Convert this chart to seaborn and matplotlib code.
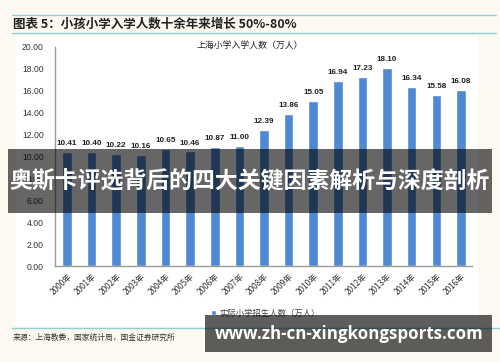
import matplotlib
matplotlib.use('Agg')
import matplotlib.pyplot as plt
from matplotlib.patches import Rectangle
from matplotlib.lines import Line2D
import seaborn as sns
import pandas as pd

# 数据
years = ['2000年', '2001年', '2002年', '2003年', '2004年', '2005年', '2006年', '2007年', '2008年',
         '2009年', '2010年', '2011年', '2012年', '2013年', '2014年', '2015年', '2016年']
students = [10.41, 10.40, 10.22, 10.16, 10.65, 10.46, 10.87, 11.00, 12.39,
            13.86, 15.05, 16.94, 17.23, 18.10, 16.34, 15.58, 16.08]
y_ticks = [0, 2, 4, 6, 8, 10, 12, 14, 16, 18, 20]

sns.set_style('white')
plt.rcParams['font.family'] = ['Noto Sans CJK SC', 'DejaVu Sans']
plt.rcParams['axes.unicode_minus'] = False

W, H = 500, 362
fig = plt.figure(figsize=(W / 100, H / 100), dpi=100, facecolor='#fdf9f1')

def fx(px):
    return px / W

def fy(py):
    return 1 - py / H

# 白色图表面板
fig.patches.append(Rectangle((fx(16), fy(326)), fx(462), fy(36) - fy(326),
                             transform=fig.transFigure, facecolor='white', edgecolor='none', zorder=-1))

# 标题与分隔线
teal = '#8fd0d6'
fig.add_artist(Line2D([fx(12), fx(496)], [fy(15), fy(15)], color=teal, lw=1.0))
fig.add_artist(Line2D([fx(12), fx(496)], [fy(33), fy(33)], color=teal, lw=1.0))
fig.text(fx(13), fy(24), '图表 5：小孩小学入学人数十余年来增长 50%-80%', fontsize=9,
         fontweight='bold', style='italic', color='#222222', va='center', ha='left')

ax = fig.add_axes([fx(55), fy(266), fx(472) - fx(55), fy(47) - fy(266)])
df = pd.DataFrame({'year': years, 'value': students})
sns.barplot(data=df, x='year', y='value', color='#4f88d3', width=0.39, saturation=1,
            ax=ax, label='实际小学招生人数（万人）')
handles, labels = ax.get_legend_handles_labels()
if ax.get_legend() is not None:
    ax.get_legend().remove()

ax.set_ylim(0, 20)
ax.set_xlim(-0.49, 16.45)
ax.set_yticks(y_ticks)
ax.set_yticklabels([f'{v:.2f}' for v in y_ticks], fontsize=6.2, color='#333333',
                   family=['Liberation Sans', 'DejaVu Sans'])
ax.set_xticks(range(len(years)))
ax.set_xticklabels(years, rotation=45, ha='right', rotation_mode='anchor',
                   fontsize=5.9, color='#333333')
ax.tick_params(axis='y', length=0, pad=8)
ax.tick_params(axis='x', length=0, pad=4)
ax.set_xlabel('')
ax.set_ylabel('')
for s in ['top', 'right']:
    ax.spines[s].set_visible(False)
for s in ['left', 'bottom']:
    ax.spines[s].set_color('#9a9a9a')
    ax.spines[s].set_linewidth(1.0)
ax.set_facecolor('white')

for i, v in enumerate(students):
    ax.text(i, v + 0.45, f'{v:.2f}', ha='center', va='bottom', fontsize=5.9,
            fontweight='bold', color='#222222', family=['Liberation Sans', 'DejaVu Sans'])

fig.text(fx(250), fy(45), '上海小学入学人数（万人）', fontsize=6.4, color='#222222',
         ha='center', va='center')

fig.legend(handles, labels, loc='center', bbox_to_anchor=(fx(265), fy(313)), frameon=False,
           fontsize=6, handlelength=0.6, handleheight=0.6, handletextpad=0.4,
           labelcolor='#444444')

# 来源
fig.add_artist(Line2D([fx(12), fx(500)], [fy(328), fy(328)], color=teal, lw=1.0))
fig.text(fx(13), fy(338), '来源：上海教委，国家统计局，国金证券研究所', fontsize=5.6,
         color='#333333', ha='left', va='center')

# 覆盖横幅
fig.patches.append(Rectangle((fx(8), fy(213)), fx(484), fy(149) - fy(213),
                             transform=fig.transFigure, facecolor='black', alpha=0.6,
                             edgecolor='none', zorder=8))
fig.text(fx(250), fy(182), '奥斯卡评选背后的四大关键因素解析与深度剖析', fontsize=16.5,
         fontweight='bold', color='white', ha='center', va='center', zorder=9)

fig.patches.append(Rectangle((fx(205), fy(352)), fx(287), fy(315) - fy(352),
                             transform=fig.transFigure, facecolor='black', alpha=0.63,
                             edgecolor='none', zorder=8))
fig.text(fx(349), fy(334), 'www.zh-cn-xingkongsports.com', fontsize=12.2,
         fontweight='bold', color='white', ha='center', va='center', zorder=9,
         family=['Open Sans', 'DejaVu Sans'])

fig.savefig('out.png', dpi=100, facecolor=fig.get_facecolor())
